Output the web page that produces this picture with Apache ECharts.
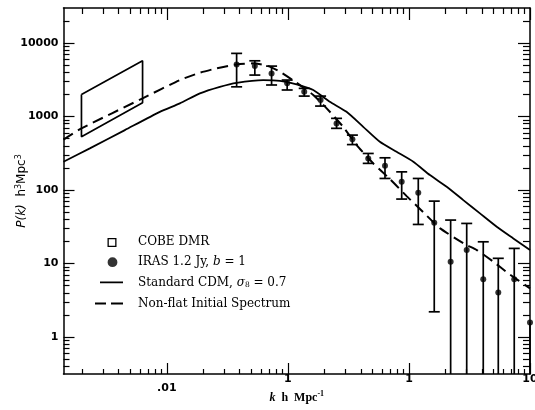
<!DOCTYPE html>
<html><head><meta charset="utf-8">
<script src="https://cdn.jsdelivr.net/npm/echarts@6/dist/echarts.min.js"></script>
<style>html,body{margin:0;padding:0;background:#fff}#c{width:535px;height:410px}</style>
</head><body><div id="c"></div>
<script>
// ---- data ----
const cobeK = [0.00197, 0.00630];
const cobeTop = [2004, 5742];
const cobeBottom = [531, 1542];

const irasK = [0.0377, 0.0533, 0.0733, 0.0986, 0.1364, 0.1862, 0.2523, 0.341, 0.461, 0.634, 0.871, 1.194, 1.618, 2.21, 3.00, 4.11, 5.47, 7.41, 10];
const irasP = [5130, 4860, 3870, 2830, 2170, 1680, 807, 490, 270, 214, 130, 91.9, 35.9, 10.6, 15.3, 6.15, 4.06, 6.15, 1.58];
const irasTop = [7240, 5740, 4860, 3140, 2420, 1900, 946, 560, 315, 275, 177, 144, 70.8, 39.1, 35.2, 19.8, 11.8, 16.1, 1.58];
const irasBottom = [2540, 3670, 2690, 2300, 1900, 1390, 692, 416, 231, 144, 75.5, 34.1, 2.21, 0.1, 0.1, 0.1, 0.1, 0.1, 0.1];

const cdmK = [0.0014, 0.00231, 0.0045, 0.00875, 0.0128, 0.01875, 0.0274, 0.0377, 0.0625, 0.0859, 0.118, 0.162, 0.222, 0.305, 0.419, 0.575, 0.790, 1.087, 1.49, 2.05, 2.81, 3.86, 5.31, 7.28, 10];
const cdmP = [243, 369, 655, 1161, 1514, 2070, 2541, 2884, 3141, 3069, 2742, 2296, 1589, 1161, 726, 454, 332, 243, 160, 111, 73.1, 48.2, 31.7, 22.0, 15.3];

const nonflatK = [0.0014, 0.00197, 0.0063, 0.0128, 0.01875, 0.02576, 0.0377, 0.0516, 0.0687, 0.0859, 0.118, 0.162, 0.209, 0.286, 0.370, 0.507, 0.697, 0.957, 1.31, 1.80, 2.90, 3.63, 4.98, 6.62, 10];
const nonflatP = [487, 690, 1771, 3141, 3945, 4529, 5129, 5297, 4862, 4074, 2884, 1963, 1294, 726, 409, 231, 141, 82.8, 50.2, 30.4, 18.4, 15.3, 10.6, 7.36, 4.6];

const xTickValues = [0.01, 0.1, 1, 10];
const xTickLabels = ['.01', '1', '1', '10'];
const yTickValues = [1, 10, 100, 1000, 10000];
const yTickLabels = ['1', '10', '100', '1000', '10000'];
const xRange = [0.0014, 10];
const yRange = [0.315, 30000];

// ---- helpers ----
function minorTicks(lo, hi) {
  const out = [];
  for (let e = -4; e <= 5; e++) {
    for (let m = 2; m <= 9; m++) {
      const v = +(m * Math.pow(10, e)).toPrecision(6);
      if (v > lo && v < hi) out.push(v);
    }
  }
  return out;
}
const BLACK = '#000';
function makeAxis(range, position, values, len, opts) {
  return Object.assign({
    type: 'log', logBase: 10, min: range[0], max: range[1], position: position,
    splitLine: { show: false }, minorTick: { show: false }, minorSplitLine: { show: false },
    axisLine: { show: false, onZero: false, lineStyle: { color: BLACK, width: 1.5 } },
    axisTick: { show: true, inside: true, length: len, customValues: values, lineStyle: { color: BLACK, width: 1.2 } },
    axisLabel: { show: false },
    nameMoveOverlap: false
  }, opts || {});
}
const labelFont = { fontFamily: 'DejaVu Sans', fontWeight: 'bold', fontSize: 11, color: BLACK };
const xMinor = minorTicks(xRange[0], xRange[1]);
const yMinor = minorTicks(yRange[0], yRange[1]);

const xAxes = [
  makeAxis(xRange, 'bottom', xTickValues, 11, {
    axisLine: { show: true, onZero: false, lineStyle: { color: BLACK, width: 1.5 } },
    axisLabel: Object.assign({
      show: true, customValues: xTickValues, margin: 0,
      formatter: v => {
        const i = xTickValues.findIndex(t => Math.abs(t - v) / t < 1e-6);
        const s = i >= 0 ? xTickLabels[i] : '';
        return i === 0 ? '{lo|' + s + '}' : '{n|' + s + '}';
      },
      rich: { lo: Object.assign({ padding: [9, 0, 0, 0] }, labelFont), n: Object.assign({}, labelFont) }
    }, labelFont),
    name: '{i|k}  h  Mpc{s|-1}', nameLocation: 'middle', nameGap: 16,
    nameTextStyle: {
      fontFamily: 'Liberation Serif', fontSize: 12, color: BLACK, fontWeight: 'bold',
      rich: {
        i: { fontFamily: 'Liberation Serif', fontSize: 12, fontStyle: 'italic', fontWeight: 'bold', color: BLACK },
        s: { fontFamily: 'Liberation Serif', fontSize: 8, fontWeight: 'bold', color: BLACK, padding: [0, 0, 7, 0] }
      }
    }
  }),
  makeAxis(xRange, 'bottom', xMinor, 5),
  makeAxis(xRange, 'top', xTickValues, 12, { axisLine: { show: true, onZero: false, lineStyle: { color: BLACK, width: 1.5 } } }),
  makeAxis(xRange, 'top', xMinor, 6)
];
const yAxes = [
  makeAxis(yRange, 'left', yTickValues, 11, {
    axisLine: { show: true, onZero: false, lineStyle: { color: BLACK, width: 1.5 } },
    axisLabel: Object.assign({
      show: true, customValues: yTickValues, margin: 5,
      formatter: v => {
        const i = yTickValues.findIndex(t => Math.abs(t - v) / t < 1e-6);
        return i >= 0 ? yTickLabels[i] : '';
      }
    }, labelFont),
    name: '{i|P(k)}  h{s|3}Mpc{s|3}', nameLocation: 'middle', nameGap: 34, nameRotate: 90,
    nameTextStyle: {
      fontFamily: 'DejaVu Sans', fontSize: 12, color: BLACK,
      rich: {
        i: { fontFamily: 'DejaVu Sans', fontSize: 12, fontStyle: 'italic', color: BLACK },
        s: { fontFamily: 'DejaVu Sans', fontSize: 8, color: BLACK, padding: [0, 0, 7, 0] }
      }
    }
  }),
  makeAxis(yRange, 'left', yMinor, 6),
  makeAxis(yRange, 'right', yTickValues, 12, { axisLine: { show: true, onZero: false, lineStyle: { color: BLACK, width: 1.5 } } }),
  makeAxis(yRange, 'right', yMinor, 7)
];

const names = {
  cobe: 'COBE DMR',
  iras: 'IRAS 1.2 Jy, b = 1',
  cdm: 'Standard CDM, σ8 = 0.7',
  nonflat: 'Non-flat Initial Spectrum'
};
const legendRich = {
  'IRAS 1.2 Jy, b = 1': 'IRAS 1.2 Jy, {i|b} = 1',
  'Standard CDM, σ8 = 0.7': 'Standard CDM, {i|σ}{sub|8} = 0.7'
};
// legend icon shapes in a 28x10 box (corner specks keep the box size fixed)
const BOX = 'M0,0 L0.01,0 L0,0.01 Z M28,10 L27.99,10 L28,9.99 Z ';
const iconSquare = 'path://' + BOX + 'M12.5,1 L21.5,1 L21.5,10 L12.5,10 Z M13.8,2.3 L13.8,8.7 L20.2,8.7 L20.2,2.3 Z';
const iconDot = 'path://' + BOX + 'M12.6,5 A4.9,4.9 0 1 0 22.4,5 A4.9,4.9 0 1 0 12.6,5 Z';
const iconSolid = 'path://' + BOX + 'M5,4.1 L28,4.1 L28,5.9 L5,5.9 Z';
const iconDashed = 'path://' + BOX + 'M0,4.0 L11,4.0 L11,6.0 L0,6.0 Z M16,4.0 L28,4.0 L28,6.0 L16,6.0 Z';

const cobePolygon = [
  [cobeK[0], cobeTop[0]], [cobeK[1], cobeTop[1]], [cobeK[1], cobeBottom[1]], [cobeK[0], cobeBottom[0]], [cobeK[0], cobeTop[0]]
];

const chart = echarts.init(document.getElementById('c'), null, { renderer: 'canvas' });
chart.setOption({
  animation: false,
  backgroundColor: '#fff',
  grid: { left: 63.5, right: 5, top: 8, bottom: 36, containLabel: false, outerBoundsMode: 'none' },
  xAxis: xAxes,
  yAxis: yAxes,
  legend: {
    orient: 'vertical', left: 90, top: 231, itemWidth: 28, itemHeight: 10, itemGap: 8.2,
    selectedMode: false,
    textStyle: {
      fontFamily: 'DejaVu Serif', fontSize: 12, color: BLACK, padding: [0, 0, 0, 10],
      rich: {
        i: { fontFamily: 'DejaVu Serif', fontSize: 12, fontStyle: 'italic', color: BLACK },
        sub: { fontFamily: 'DejaVu Serif', fontSize: 7.5, color: BLACK, padding: [6, 0, 0, 0] }
      }
    },
    formatter: n => legendRich[n] || n,
    data: [
      { name: names.cobe, icon: iconSquare, itemStyle: { color: BLACK } },
      { name: names.iras, icon: iconDot, itemStyle: { color: BLACK } },
      { name: names.cdm, icon: iconSolid, itemStyle: { color: BLACK } },
      { name: names.nonflat, icon: iconDashed, itemStyle: { color: BLACK } }
    ]
  },
  series: [
    {
      name: names.cobe, type: 'line', data: cobePolygon, symbol: 'none',
      lineStyle: { color: BLACK, width: 1.7 }, itemStyle: { color: BLACK }
    },
    {
      name: names.cdm, type: 'line', data: cdmK.map((k, i) => [k, cdmP[i]]), symbol: 'none', smooth: 0.2,
      lineStyle: { color: BLACK, width: 1.8 }, itemStyle: { color: BLACK }
    },
    {
      name: names.nonflat, type: 'line', data: nonflatK.map((k, i) => [k, nonflatP[i]]), symbol: 'none', smooth: 0.2,
      lineStyle: { color: BLACK, width: 2, type: [11, 6] }, itemStyle: { color: BLACK }
    },
    {
      name: 'IRAS errors', type: 'custom', clip: true,
      data: irasK.map((k, i) => [k, irasP[i], irasTop[i], irasBottom[i]]),
      encode: { x: 0, y: [1, 2, 3] },
      renderItem: (params, api) => {
        const k = api.value(0);
        const p = api.value(1), t = api.value(2), b = api.value(3);
        const pt = api.coord([k, t]);
        const pb = api.coord([k, b]);
        const w = 5.5;
        const st = { stroke: BLACK, lineWidth: 1.7 };
        const children = [{ type: 'line', shape: { x1: pt[0], y1: pt[1], x2: pb[0], y2: pb[1] }, style: st }];
        if (t > p) children.push({ type: 'line', shape: { x1: pt[0] - w, y1: pt[1], x2: pt[0] + w, y2: pt[1] }, style: st });
        if (b < p) children.push({ type: 'line', shape: { x1: pb[0] - w, y1: pb[1], x2: pb[0] + w, y2: pb[1] }, style: st });
        return { type: 'group', children: children };
      }
    },
    {
      name: names.iras, type: 'scatter', data: irasK.map((k, i) => [k, irasP[i]]),
      symbol: 'circle', symbolSize: 6, clip: false, itemStyle: { color: BLACK }
    }
  ]
});
</script></body></html>
